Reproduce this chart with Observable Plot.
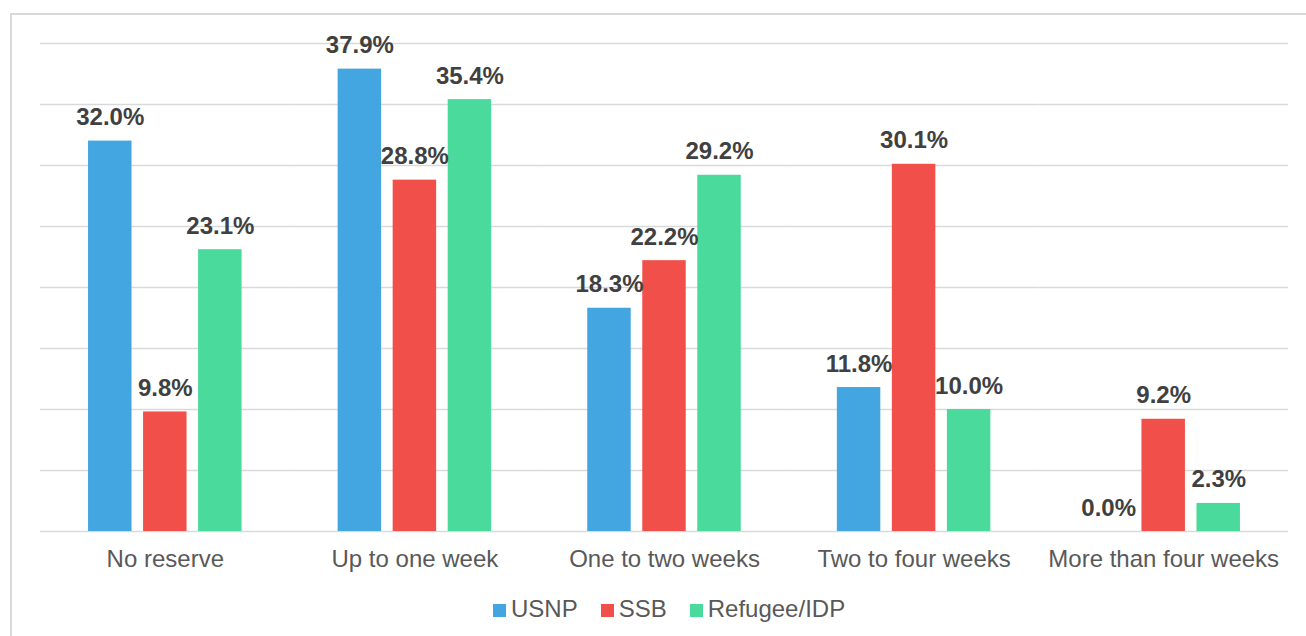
<!DOCTYPE html>
<html>
<head>
<meta charset="utf-8">
<script src="https://cdn.jsdelivr.net/npm/d3@7"></script>
<script src="https://cdn.jsdelivr.net/npm/@observablehq/plot@0.6"></script>
<style>
  html, body { margin: 0; padding: 0; background: #fff; overflow: hidden; }
  #wrap { position: relative; width: 1306px; height: 636px; overflow: hidden; font-family: "Liberation Sans", Arial, sans-serif; }
  #frame { position: absolute; left: 10px; top: 13px; width: 1400px; height: 700px; border: 2px solid #d9d9d9; box-sizing: border-box; }
  #chart { position: absolute; left: 0; top: 0; }
  #legend { position: absolute; left: 493px; top: 595px; font-size: 24px; line-height: 28px; color: #595959; white-space: nowrap; }
  #legend .item { display: inline-block; margin-right: 23px; }
  #legend .sw { display: inline-block; width: 13px; height: 13px; margin-right: 5px; vertical-align: baseline; }
</style>
</head>
<body>
<div id="wrap">
  <div id="frame"></div>
  <div id="chart"></div>
  <div id="legend"></div>
</div>
<script>
const categories = ["No reserve", "Up to one week", "One to two weeks", "Two to four weeks", "More than four weeks"];
const series = ["USNP", "SSB", "Refugee/IDP"];
const colors = ["#44A6E0", "#F1504A", "#4ADA9C"];
const usnp = [32.0, 37.9, 18.3, 11.8, 0.0];
const ssb = [9.8, 28.8, 22.2, 30.1, 9.2];
const refugee = [23.1, 35.4, 29.2, 10.0, 2.3];
const yGrid = [5, 10, 15, 20, 25, 30, 35, 40];

const valuesBySeries = [usnp, ssb, refugee];
const data = [];
categories.forEach((c, i) => {
  series.forEach((s, j) => {
    data.push({category: c, series: s, value: valuesBySeries[j][i]});
  });
});

const chart = Plot.plot({
  width: 1306,
  height: 580,
  marginLeft: 40,
  marginRight: 18,
  marginTop: 43,
  marginBottom: 49,
  style: {fontFamily: "'Liberation Sans', Arial, sans-serif", fontSize: "24px", color: "#595959", background: "transparent"},
  fx: {domain: categories, padding: 0, round: false, tickSize: 0, tickPadding: 18, label: null},
  x: {domain: series, paddingInner: 0.21, paddingOuter: 0.873, round: false, axis: null},
  y: {domain: [0, 40], axis: null},
  color: {domain: series, range: colors},
  marks: [
    Plot.ruleY(yGrid, {stroke: "#d9d9d9", strokeWidth: 1.5}),
    Plot.ruleY([0], {stroke: "#d9d9d9", strokeWidth: 1.5}),
    Plot.barY(data, {fx: "category", x: "series", y: "value", fill: "series"}),
    Plot.text(data, {
      fx: "category", x: "series", y: "value",
      text: d => d.value.toFixed(1) + "%",
      lineAnchor: "bottom", dy: -16,
      fontSize: 24, fontWeight: "bold", fill: "#404040"
    })
  ]
});
document.getElementById("chart").appendChild(chart);

const legend = document.getElementById("legend");
series.forEach((s, i) => {
  const item = document.createElement("span");
  item.className = "item";
  const sw = document.createElement("span");
  sw.className = "sw";
  sw.style.background = colors[i];
  item.appendChild(sw);
  item.appendChild(document.createTextNode(s));
  legend.appendChild(item);
});
</script>
</body>
</html>
